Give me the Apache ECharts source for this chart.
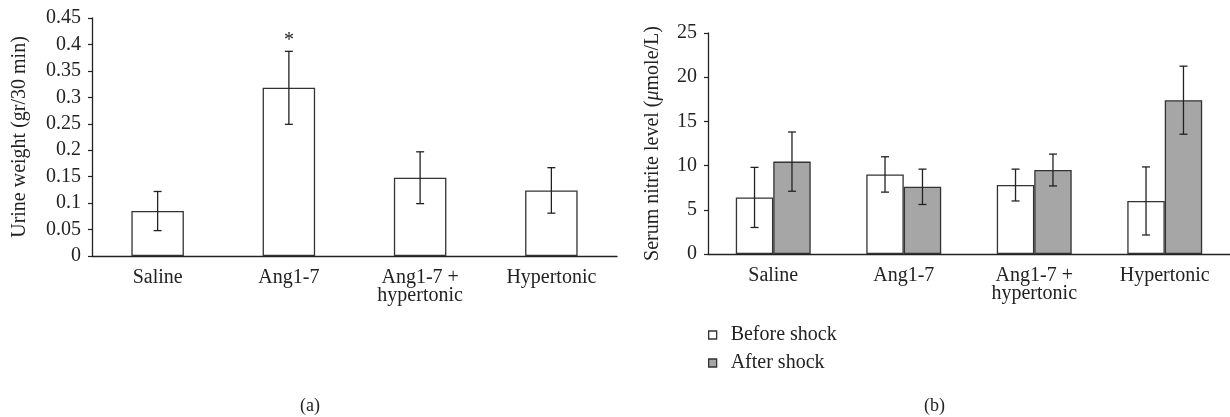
<!DOCTYPE html>
<html>
<head>
<meta charset="utf-8">
<script src="https://cdn.jsdelivr.net/npm/echarts@6/dist/echarts.min.js"></script>
<style>
html,body{margin:0;padding:0;background:#fff;}
#c{width:1230px;height:417px;}
</style>
</head>
<body>
<div id="c"></div>
<script>
// ---- data ----
var categories = ['Saline', 'Ang1-7', 'Ang1-7 +\nhypertonic', 'Hypertonic'];
var urineMean = [0.085, 0.318, 0.148, 0.124];
var urineErr = [0.037, 0.069, 0.049, 0.043];
var urineSig = ['', '*', '', ''];
var nitriteBefore = [6.4, 9.0, 7.8, 6.0];
var nitriteBeforeErr = [3.4, 2.0, 1.8, 3.85];
var nitriteAfter = [10.45, 7.6, 9.5, 17.4];
var nitriteAfterErr = [3.35, 2.0, 1.8, 3.85];
var seriesNames = ['Before shock', 'After shock'];

var FONT = "'Liberation Serif', 'DejaVu Serif', serif";
var INK = '#222';
var EDGE = '#333';
var GRAY = '#a6a6a6';

function errData(mean, err, sig) {
  return mean.map(function (m, i) {
    return [i, m - err[i], m + err[i], sig ? sig[i] : ''];
  });
}

function errRender(offsetFrac) {
  return function (params, api) {
    var i = api.value(0);
    var lo = api.coord([i, api.value(1)]);
    var hi = api.coord([i, api.value(2)]);
    var band = api.size([1, 0])[0];
    var x = lo[0] + band * offsetFrac;
    var cap = 4;
    var st = { stroke: INK, lineWidth: 1.3 };
    var children = [
      { type: 'line', shape: { x1: x, y1: lo[1], x2: x, y2: hi[1] }, style: st },
      { type: 'line', shape: { x1: x - cap, y1: lo[1], x2: x + cap, y2: lo[1] }, style: st },
      { type: 'line', shape: { x1: x - cap, y1: hi[1], x2: x + cap, y2: hi[1] }, style: st }
    ];
    var s = api.value(3);
    if (s) {
      children.push({ type: 'text', style: { text: s, x: x, y: hi[1] - 1, textAlign: 'center', textVerticalAlign: 'bottom', fontSize: 20, fontFamily: FONT, fill: INK } });
    }
    return { type: 'group', children: children };
  };
}

var axisLineStyle = { show: true, lineStyle: { color: INK, width: 1.3 } };
var labelStyle = { color: INK, fontSize: 20, fontFamily: FONT };

var option = {
  animation: false,
  backgroundColor: '#fff',
  textStyle: { fontFamily: FONT },
  grid: [
    { left: 92, top: 18, width: 525, height: 238 },
    { left: 708, top: 33, width: 522, height: 221 }
  ],
  xAxis: [
    { gridIndex: 0, type: 'category', data: categories, axisLine: axisLineStyle, axisTick: { show: false },
      axisLabel: Object.assign({ margin: 13, lineHeight: 18, interval: 0 }, labelStyle) },
    { gridIndex: 1, type: 'category', data: categories, axisLine: axisLineStyle, axisTick: { show: false },
      axisLabel: Object.assign({ margin: 13, lineHeight: 18, interval: 0 }, labelStyle) }
  ],
  yAxis: [
    { gridIndex: 0, type: 'value', min: 0, max: 0.45, interval: 0.05,
      axisLine: axisLineStyle, axisTick: { show: true, inside: false, length: 4, lineStyle: { color: INK, width: 1.2 } },
      splitLine: { show: false },
      axisLabel: Object.assign({ margin: 11 }, labelStyle),
      name: 'Urine weight (gr/30 min)', nameLocation: 'middle', nameGap: 62, nameRotate: 90,
      nameTextStyle: { color: INK, fontSize: 20, fontFamily: FONT } },
    { gridIndex: 1, type: 'value', min: 0, max: 25, interval: 5,
      axisLine: axisLineStyle, axisTick: { show: true, inside: false, length: 4, lineStyle: { color: INK, width: 1.2 } },
      splitLine: { show: false },
      axisLabel: Object.assign({ margin: 11 }, labelStyle),
      name: '{n|Serum nitrite level (}{i|μ}{n|mole/L)}', nameLocation: 'middle', nameGap: 45, nameRotate: 90,
      nameTextStyle: { color: INK, fontSize: 20, fontFamily: FONT,
        rich: { n: { fontSize: 20, fontFamily: FONT, color: INK }, i: { fontSize: 20, fontFamily: FONT, fontStyle: 'italic', color: INK } } } }
  ],
  legend: {
    orient: 'vertical', left: 703, top: 320, itemWidth: 8, itemHeight: 8, itemGap: 8,
    textStyle: { color: INK, fontSize: 20, fontFamily: FONT, padding: [0, 0, 0, 9] },
    data: [
      { name: seriesNames[0], icon: 'rect', itemStyle: { color: '#fff', borderColor: EDGE, borderWidth: 1.3 } },
      { name: seriesNames[1], icon: 'rect', itemStyle: { color: GRAY, borderColor: EDGE, borderWidth: 1.3 } }
    ]
  },
  graphic: [
    { type: 'text', left: 300, top: 397, style: { text: '(a)', fontSize: 18, fontFamily: FONT, fill: INK } },
    { type: 'text', left: 924, top: 397, style: { text: '(b)', fontSize: 18, fontFamily: FONT, fill: INK } }
  ],
  series: [
    { name: 'Urine weight', type: 'bar', xAxisIndex: 0, yAxisIndex: 0, data: urineMean, barWidth: '40%',
      itemStyle: { color: '#fff', borderColor: EDGE, borderWidth: 1.3 } },
    { type: 'custom', xAxisIndex: 0, yAxisIndex: 0, data: errData(urineMean, urineErr, urineSig),
      renderItem: errRender(0), z: 5 },
    { name: seriesNames[0], type: 'bar', xAxisIndex: 1, yAxisIndex: 1, data: nitriteBefore, barWidth: '28.7%', barGap: '0%',
      itemStyle: { color: '#fff', borderColor: EDGE, borderWidth: 1.3 } },
    { name: seriesNames[1], type: 'bar', xAxisIndex: 1, yAxisIndex: 1, data: nitriteAfter, barWidth: '28.7%', barGap: '0%',
      itemStyle: { color: GRAY, borderColor: EDGE, borderWidth: 1.3 } },
    { type: 'custom', xAxisIndex: 1, yAxisIndex: 1, data: errData(nitriteBefore, nitriteBeforeErr),
      renderItem: errRender(-0.1435), z: 5 },
    { type: 'custom', xAxisIndex: 1, yAxisIndex: 1, data: errData(nitriteAfter, nitriteAfterErr),
      renderItem: errRender(0.1435), z: 5 }
  ]
};

var chart = echarts.init(document.getElementById('c'), null, { renderer: 'canvas' });
chart.setOption(option);
</script>
</body>
</html>
